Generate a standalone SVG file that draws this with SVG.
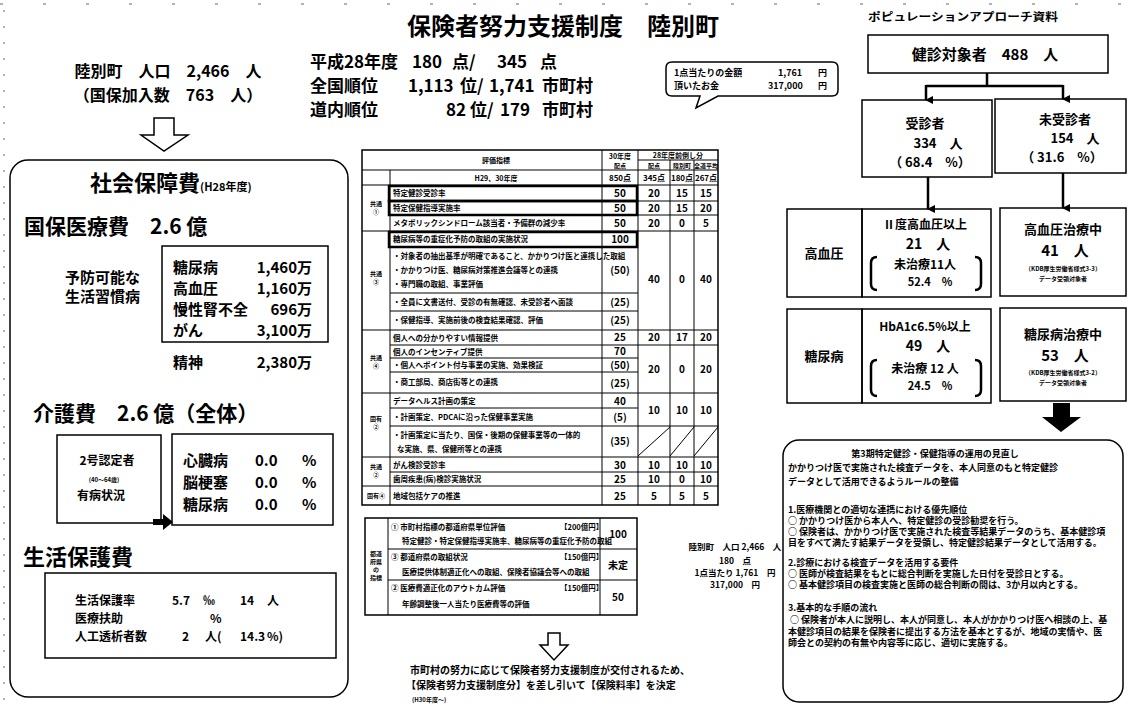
<svg xmlns="http://www.w3.org/2000/svg" width="1129" height="713" viewBox="0 0 1129 713">
<style>
.t{font-family:"Noto Sans CJK JP","Noto Sans CJK SC",sans-serif;font-weight:700;fill:#000}
.b{fill:none;stroke:#000;stroke-width:1.5}
.bt{fill:none;stroke:#000;stroke-width:1}
.bk{fill:none;stroke:#000;stroke-width:2.5}
.c{text-anchor:middle}
.e{text-anchor:end}
.s{font-size:8px}
.xs{font-size:6px}
</style>
<defs>
<marker id="ah" markerWidth="8" markerHeight="8" refX="4" refY="7" orient="auto" markerUnits="userSpaceOnUse" viewBox="0 0 8 8">
<path d="M0,0 L8,0 L4,8 Z" fill="#000"/>
</marker>
</defs>
<rect width="1129" height="713" fill="#fff"/>
<line x1="0" y1="4" x2="1129" y2="4" stroke="#000" stroke-width="1" stroke-dasharray="3 40" opacity="0.6"/>
<line x1="4" y1="10" x2="4" y2="700" stroke="#000" stroke-width="1" stroke-dasharray="2 14" opacity="0.6"/>

<g id="title"><text class="t" x="563" y="35" font-size="24" text-anchor="middle">保険者努力支援制度　陸別町</text></g>

<g id="population">
<text class="t" x="168" y="77" font-size="16" text-anchor="middle">陸別町　人口　2,466　人</text>
<text class="t" x="168" y="101" font-size="16" text-anchor="middle">（国保加入数　763　人）</text>
<path class="b" d="M154,118 H174 V135 H188 L164,151 L141,135 H154 Z"/>
</g>

<g id="score">
<text class="t" font-size="17" y="68"><tspan x="310">平成28年度</tspan><tspan x="412">180</tspan><tspan x="452">点/</tspan><tspan x="497">345</tspan><tspan x="540">点</tspan></text>
<text class="t" font-size="17" y="92"><tspan x="310">全国順位</tspan><tspan x="408">1,113</tspan><tspan x="460">位/</tspan><tspan x="489">1,741</tspan><tspan x="542">市町村</tspan></text>
<text class="t" font-size="17" y="116"><tspan x="310">道内順位</tspan><tspan x="446">82</tspan><tspan x="470">位/</tspan><tspan x="500">179</tspan><tspan x="542">市町村</tspan></text>
</g>

<g id="bubble">
<path class="b" d="M672,62 H832 Q838,62 838,68 V90 Q838,96 832,96 H718 L696,108 L700,96 H672 Q666,96 666,90 V68 Q666,62 672,62 Z"/>
<text class="t" font-size="9" y="76"><tspan x="674">1点当たりの金額</tspan><tspan x="778">1,761</tspan><tspan x="818">円</tspan></text>
<text class="t" font-size="9" y="89"><tspan x="674">頂いたお金</tspan><tspan x="768">317,000</tspan><tspan x="818">円</tspan></text>
</g>

<g id="social-security">
<rect class="b" x="10" y="160" width="338" height="537" rx="18"/>
<text class="t" x="90" y="191" font-size="22" font-weight="500">社会保障費<tspan font-size="11">(H28年度)</tspan></text>
<text class="t" x="24" y="234" font-size="21">国保医療費　2.6 億</text>
<text class="t" x="65" y="283" font-size="15">予防可能な</text>
<text class="t" x="65" y="302" font-size="15">生活習慣病</text>
<rect class="b" x="162" y="246" width="166" height="96"/>
<text class="t" font-size="15" x="173" y="273">糖尿病<tspan x="312" text-anchor="end">1,460万</tspan></text>
<text class="t" font-size="15" x="173" y="294">高血圧<tspan x="312" text-anchor="end">1,160万</tspan></text>
<text class="t" font-size="15" x="173" y="315">慢性腎不全<tspan x="312" text-anchor="end">696万</tspan></text>
<text class="t" font-size="15" x="173" y="336">がん<tspan x="312" text-anchor="end">3,100万</tspan></text>
<text class="t" font-size="15" x="173" y="368">精神<tspan x="312" text-anchor="end">2,380万</tspan></text>
<text class="t" x="33" y="421" font-size="21">介護費　2.6 億（全体）</text>
<rect class="b" x="57" y="435" width="104" height="88"/>
<text class="t c" x="107" y="465" font-size="12">2号認定者</text>
<text class="t c" x="104" y="482" font-size="6">(40〜64歳)</text>
<text class="t c" x="101" y="500" font-size="12">有病状況</text>
<rect class="b" x="172" y="434" width="161" height="91"/>
<text class="t" font-size="15" x="183" y="466">心臓病<tspan x="255">0.0</tspan><tspan x="302">%</tspan></text>
<text class="t" font-size="15" x="183" y="488">脳梗塞<tspan x="255">0.0</tspan><tspan x="302">%</tspan></text>
<text class="t" font-size="15" x="183" y="510">糖尿病<tspan x="255">0.0</tspan><tspan x="302">%</tspan></text>
<path d="M153,519 H163 V514 L173,522 L163,530 V525 H153 Z" fill="#000"/>
<text class="t" x="23" y="565" font-size="22" font-weight="500">生活保護費</text>
<rect class="b" x="45" y="573" width="291" height="85"/>
<text class="t" font-size="12" x="75" y="605">生活保護率<tspan x="172">5.7</tspan><tspan x="203">‰</tspan><tspan x="240">14</tspan><tspan x="267">人</tspan></text>
<text class="t" font-size="12" x="75" y="623">医療扶助<tspan x="210">%</tspan></text>
<text class="t" font-size="12" x="75" y="641">人工透析者数<tspan x="182">2</tspan><tspan x="205">人(</tspan><tspan x="240">14.3</tspan><tspan x="267">%)</tspan></text>
</g>

<g id="score-table">
<rect class="b" x="362" y="150" width="356" height="355"/>
<g class="bt">
<line x1="390" y1="170" x2="390" y2="505"/>
<line x1="602" y1="150" x2="602" y2="505"/>
<line x1="638" y1="150" x2="638" y2="505"/>
<line x1="670" y1="160" x2="670" y2="505"/>
<line x1="694" y1="160" x2="694" y2="505"/>
<line x1="638" y1="160" x2="718" y2="160"/>
<line x1="362" y1="170" x2="718" y2="170"/>
<line x1="362" y1="185" x2="718" y2="185"/>
<line x1="390" y1="201" x2="718" y2="201"/>
<line x1="390" y1="215" x2="718" y2="215"/>
<line x1="362" y1="231" x2="718" y2="231"/>
<line x1="390" y1="247" x2="638" y2="247"/>
<line x1="390" y1="293" x2="638" y2="293"/>
<line x1="390" y1="311" x2="638" y2="311"/>
<line x1="362" y1="330" x2="718" y2="330"/>
<line x1="390" y1="345" x2="718" y2="345"/>
<line x1="390" y1="358" x2="638" y2="358"/>
<line x1="390" y1="372" x2="638" y2="372"/>
<line x1="362" y1="393" x2="718" y2="393"/>
<line x1="390" y1="408" x2="638" y2="408"/>
<line x1="390" y1="426" x2="718" y2="426"/>
<line x1="362" y1="457" x2="718" y2="457"/>
<line x1="390" y1="472" x2="718" y2="472"/>
<line x1="362" y1="486" x2="718" y2="486"/>
<line x1="638" y1="456" x2="670" y2="427"/>
<line x1="670" y1="456" x2="694" y2="427"/>
<line x1="694" y1="456" x2="718" y2="427"/>
</g>
<g class="bk">
<rect x="389" y="186" width="248" height="15"/>
<rect x="389" y="201" width="248" height="14"/>
<rect x="389" y="232" width="248" height="15"/>
</g>
<text class="t c" x="496" y="163" font-size="7">評価指標</text>
<text class="t c" x="620" y="159" font-size="7">30年度</text>
<text class="t c" x="620" y="168" font-size="6">配点</text>
<text class="t c" x="678" y="158" font-size="7">28年度前倒し分</text>
<text class="t c xs" x="654" y="168">配点</text>
<text class="t c xs" x="682" y="168">陸別町</text>
<text class="t c xs" x="706" y="168">全道平均</text>
<text class="t c" x="496" y="181" font-size="7">H29、30年度</text>
<text class="t c s" x="620" y="181">850点</text>
<text class="t c s" x="654" y="181">345点</text>
<text class="t c s" x="682" y="181">180点</text>
<text class="t c s" x="706" y="181">267点</text>

<g class="t xs">
<text class="c" x="376" y="206">共通</text><text class="c" x="376" y="214">①</text>
<text class="c" x="376" y="276">共通</text><text class="c" x="376" y="284">③</text>
<text class="c" x="376" y="360">共通</text><text class="c" x="376" y="368">④</text>
<text class="c" x="376" y="421">固有</text><text class="c" x="376" y="429">②</text>
<text class="c" x="376" y="469">共通</text><text class="c" x="376" y="477">②</text>
<text class="c" x="376" y="498">固有④</text>
</g>
<g class="t" font-size="7.5">
<text x="393" y="196">特定健診受診率</text>
<text x="393" y="211">特定保健指導実施率</text>
<text x="393" y="226">メタボリックシンドローム該当者・予備群の減少率</text>
<text x="393" y="242">糖尿病等の重症化予防の取組の実施状況</text>
<text x="393" y="259">・対象者の抽出基準が明確であること、かかりつけ医と連携した取組</text>
<text x="393" y="273">・かかりつけ医、糖尿病対策推進会議等との連携</text>
<text x="393" y="287">・専門職の取組、事業評価</text>
<text x="393" y="305">・全員に文書送付、受診の有無確認、未受診者へ面談</text>
<text x="393" y="323">・保健指導、実施前後の検査結果確認、評価</text>
<text x="393" y="341">個人への分かりやすい情報提供</text>
<text x="393" y="355">個人のインセンティブ提供</text>
<text x="393" y="368">・個人へポイント付与事業の実施、効果検証</text>
<text x="393" y="385">・商工部局、商店街等との連携</text>
<text x="393" y="404">データヘルス計画の策定</text>
<text x="393" y="420">・計画策定、PDCAに沿った保健事業実施</text>
<text x="393" y="438">・計画策定に当たり、国保・後期の保健事業等の一体的</text>
<text x="397" y="452">な実施、県、保健所等との連携</text>
<text x="393" y="468">がん検診受診率</text>
<text x="393" y="482">歯周疾患(病)検診実施状況</text>
<text x="393" y="499">地域包括ケアの推進</text>
</g>
<g class="t c" font-size="10">
<text x="620" y="197">50</text><text x="654" y="197">20</text><text x="682" y="197">15</text><text x="706" y="197">15</text>
<text x="620" y="212">50</text><text x="654" y="212">20</text><text x="682" y="212">15</text><text x="706" y="212">20</text>
<text x="620" y="227">50</text><text x="654" y="227">20</text><text x="682" y="227">0</text><text x="706" y="227">5</text>
<text x="620" y="243">100</text>
<text x="620" y="274">(50)</text><text x="654" y="283">40</text><text x="682" y="283">0</text><text x="706" y="283">40</text>
<text x="620" y="306">(25)</text>
<text x="620" y="324">(25)</text>
<text x="620" y="341">25</text><text x="654" y="341">20</text><text x="682" y="341">17</text><text x="706" y="341">20</text>
<text x="620" y="355">70</text>
<text x="620" y="369">(50)</text><text x="654" y="373">20</text><text x="682" y="373">0</text><text x="706" y="373">20</text>
<text x="620" y="387">(25)</text>
<text x="620" y="405">40</text><text x="654" y="414">10</text><text x="682" y="414">10</text><text x="706" y="414">10</text>
<text x="620" y="421">(5)</text>
<text x="620" y="445">(35)</text>
<text x="620" y="469">30</text><text x="654" y="469">10</text><text x="682" y="469">10</text><text x="706" y="469">10</text>
<text x="620" y="483">25</text><text x="654" y="483">10</text><text x="682" y="483">0</text><text x="706" y="483">10</text>
<text x="620" y="500">25</text><text x="654" y="500">5</text><text x="682" y="500">5</text><text x="706" y="500">5</text>
</g>
</g>

<g id="prefecture-table">
<rect class="b" x="365" y="518" width="272" height="97"/>
<g class="bt">
<line x1="388" y1="518" x2="388" y2="615"/>
<line x1="600" y1="518" x2="600" y2="615"/>
<line x1="388" y1="549" x2="637" y2="549"/>
<line x1="388" y1="580" x2="637" y2="580"/>
</g>
<g class="t c xs"><text x="376" y="556">都道</text><text x="376" y="564">府県</text><text x="376" y="572">の</text><text x="376" y="580">指標</text></g>
<g class="t" font-size="7.5">
<text x="391" y="530">① 市町村指標の都道府県単位評価<tspan x="560">【200億円】</tspan></text>
<text x="402" y="544">特定健診・特定保健指導実施率、糖尿病等の重症化予防の取組</text>
<text x="391" y="560">③ 都道府県の取組状況<tspan x="560">【150億円】</tspan></text>
<text x="402" y="575">医療提供体制適正化への取組、保険者協議会等への取組</text>
<text x="391" y="591">② 医療費適正化のアウトカム評価<tspan x="560">【150億円】</tspan></text>
<text x="402" y="607">年齢調整後一人当たり医療費等の評価</text>
</g>
<text class="t c" x="618" y="538" font-size="10">100</text>
<text class="t c" x="618" y="569" font-size="10">未定</text>
<text class="t c" x="618" y="601" font-size="10">50</text>
</g>

<g id="note">
<text class="t c" font-size="8.5" x="735" y="550">陸別町　人口 2,466　人</text>
<text class="t c" font-size="8.5" x="735" y="564">180　点</text>
<text class="t c" font-size="8.5" x="735" y="576">1点当たり 1,761　円</text>
<text class="t c" font-size="8.5" x="735" y="588">317,000　円</text>
</g>

<g id="result">
<path class="b" d="M548,633 H560 V645 H568 L554,660 L540,645 H548 Z"/>
<text class="t" font-size="10" x="410" y="674">市町村の努力に応じて保険者努力支援制度が交付されるため、</text>
<text class="t" font-size="10" x="406" y="689">【保険者努力支援制度分】を差し引いて【保険料率】を決定</text>
<text class="t" font-size="6" x="412" y="702">(H30年度〜)</text>
</g>

<g id="population-approach">
<text class="t" x="868" y="21" font-size="11" textLength="190" lengthAdjust="spacingAndGlyphs">ポピュレーションアプローチ資料</text>
</g>

<g id="target">
<rect class="b" x="868" y="35" width="240" height="38"/>
<text class="t c" x="985" y="60" font-size="15">健診対象者　488　人</text>
</g>
<g id="examined">
<rect class="b" x="862" y="100" width="130" height="77"/>
<text class="t c" x="925" y="128" font-size="13">受診者</text>
<text class="t c" x="938" y="148" font-size="13">334　人</text>
<text class="t c" x="930" y="167" font-size="13">（ 68.4　%）</text>
</g>
<g id="unexamined">
<rect class="b" x="995" y="99" width="131" height="74"/>
<text class="t c" x="1065" y="124" font-size="13">未受診者</text>
<text class="t c" x="1075" y="143" font-size="13">154　人</text>
<text class="t c" x="1062" y="162" font-size="13">（ 31.6　%）</text>
</g>

<g id="hypertension-label">
<rect class="b" x="787" y="209" width="75" height="88"/>
<text class="t c" x="824" y="258" font-size="13">高血圧</text>
</g>
<g id="hypertension-grade2">
<rect class="b" x="862" y="209" width="129" height="88"/>
<text class="t c" x="925" y="229" font-size="12">Ⅱ度高血圧以上</text>
<text class="t c" x="928" y="249" font-size="14">21　人</text>
<text class="t c" x="925" y="269" font-size="12">未治療11人</text>
<text class="t c" x="930" y="286" font-size="11">52.4　%</text>
<path class="bk" d="M877,257 Q871,257 871,263 V284 Q871,290 877,290"/>
<path class="bk" d="M975,257 Q981,257 981,263 V284 Q981,290 975,290"/>
</g>
<g id="hypertension-treated">
<rect class="b" x="1000" y="208" width="126" height="88"/>
<text class="t c" x="1063" y="234" font-size="13">高血圧治療中</text>
<text class="t c" x="1065" y="256" font-size="15">41　人</text>
<text class="t c" x="1063" y="271" font-size="6">（KDB厚生労働省様式3-3）</text>
<text class="t c" x="1063" y="281" font-size="6">データ受領対象者</text>
</g>
<g id="diabetes-label">
<rect class="b" x="787" y="309" width="75" height="94"/>
<text class="t c" x="824" y="361" font-size="13">糖尿病</text>
</g>
<g id="diabetes-hba1c">
<rect class="b" x="862" y="309" width="129" height="94"/>
<text class="t c" x="925" y="331" font-size="12">HbA1c6.5%以上</text>
<text class="t c" x="928" y="351" font-size="14">49　人</text>
<text class="t c" x="925" y="373" font-size="12">未治療 12 人</text>
<text class="t c" x="930" y="390" font-size="11">24.5　%</text>
<path class="bk" d="M877,360 Q871,360 871,366 V390 Q871,396 877,396"/>
<path class="bk" d="M975,360 Q981,360 981,366 V390 Q981,396 975,396"/>
</g>
<g id="diabetes-treated">
<rect class="b" x="1000" y="308" width="126" height="93"/>
<text class="t c" x="1063" y="339" font-size="13">糖尿病治療中</text>
<text class="t c" x="1065" y="361" font-size="15">53　人</text>
<text class="t c" x="1063" y="375" font-size="6">（KDB厚生労働省様式3-2）</text>
<text class="t c" x="1063" y="385" font-size="6">データ受領対象者</text>
</g>

<g id="connectors">
<path d="M987,73 V86 M926,86 H1063" fill="none" stroke="#000" stroke-width="2.5"/>
<line x1="926" y1="85" x2="926" y2="100" stroke="#000" stroke-width="2.5" marker-end="url(#ah)"/>
<line x1="1063" y1="85" x2="1063" y2="99" stroke="#000" stroke-width="2.5" marker-end="url(#ah)"/>
<line x1="928" y1="177" x2="928" y2="209" stroke="#000" stroke-width="2.5" marker-end="url(#ah)"/>
<line x1="1063" y1="173" x2="1063" y2="208" stroke="#000" stroke-width="2.5" marker-end="url(#ah)"/>
<path d="M1053,403 H1070 V417 H1081 L1061,432 L1042,417 H1053 Z" fill="#000"/>
</g>

<g id="guideline">
<rect class="b" x="783" y="440" width="340" height="262" rx="16"/>
<g class="t" font-size="9">
<text x="935" y="457" text-anchor="middle">第3期特定健診・保健指導の運用の見直し</text>
<text x="788" y="471">かかりつけ医で実施された検査データを、本人同意のもと特定健診</text>
<text x="788" y="485">データとして活用できるようルールの整備</text>
<text x="788" y="513">1.医療機関との適切な連携における優先順位</text>
<text x="788" y="524">○ かかりつけ医から本人へ、特定健診の受診勧奨を行う。</text>
<text x="788" y="535">○ 保険者は、かかりつけ医で実施された検査等結果データのうち、基本健診項</text>
<text x="788" y="546">目をすべて満たす結果データを受領し、特定健診結果データとして活用する。</text>
<text x="788" y="566">2.診療における検査データを活用する要件</text>
<text x="788" y="577">○ 医師が検査結果をもとに総合判断を実施した日付を受診日とする。</text>
<text x="788" y="588">○ 基本健診項目の検査実施と医師の総合判断の間は、3か月以内とする。</text>
<text x="788" y="611">3.基本的な手順の流れ</text>
<text x="790" y="623">○ 保険者が本人に説明し、本人が同意し、本人がかかりつけ医へ相談の上、基</text>
<text x="788" y="635">本健診項目の結果を保険者に提出する方法を基本とするが、地域の実情や、医</text>
<text x="788" y="646">師会との契約の有無や内容等に応じ、適切に実施する。</text>
</g>
</g>
</svg>
